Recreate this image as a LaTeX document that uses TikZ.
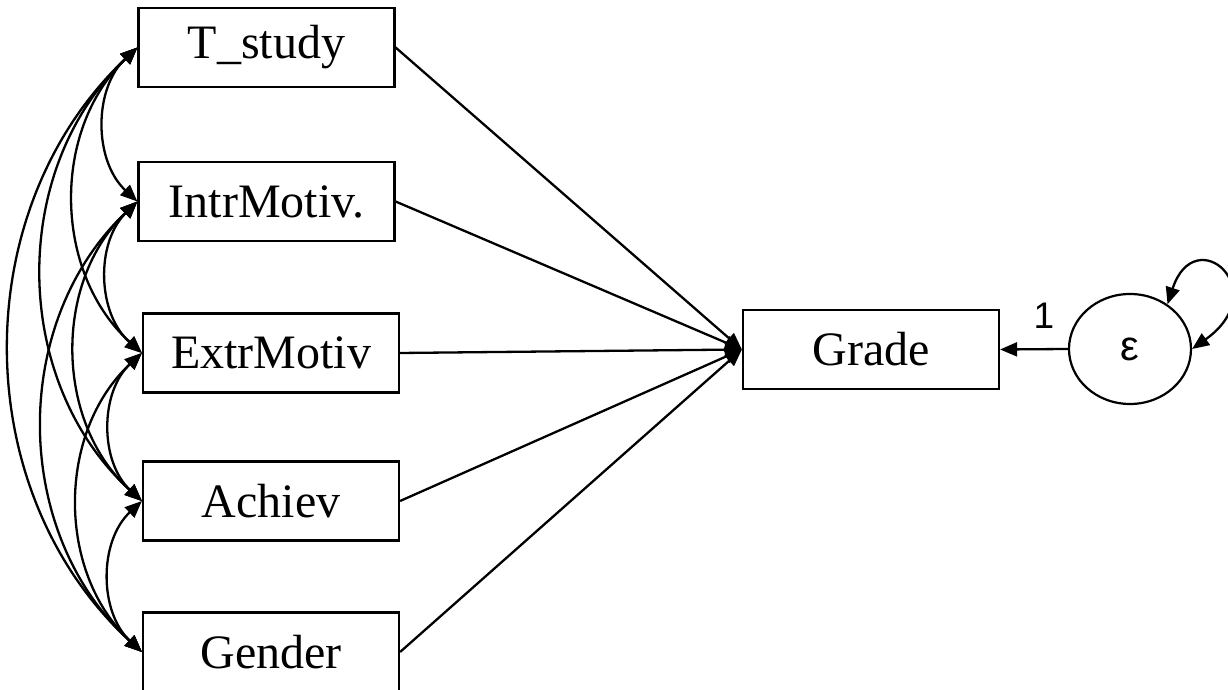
\documentclass[tikz,border=0pt]{standalone}
\usepackage{fontspec}
\setmainfont{Liberation Serif}
\newfontfamily\sansf{Liberation Sans}
\usetikzlibrary{arrows.meta,shapes.geometric}
\begin{document}
\begin{tikzpicture}[x=0.5pt,y=0.5pt,
  tip/.tip={Triangle[length=8.5pt,width=7pt]},
  var/.style={draw,line width=1.1pt,minimum width=128pt,minimum height=39.5pt,inner sep=0pt,font=\fontsize{24}{28}\selectfont},
  path/.style={line width=1.15pt,-tip},
  cov/.style={line width=1.15pt,tip-tip,bend right=47},
  err/.style={draw,ellipse,line width=1.1pt,minimum width=61pt,minimum height=55pt,inner sep=0pt,font=\sansf\fontsize{21}{24}\selectfont}]
\useasboundingbox (0,0) rectangle (1228,690);

% observed variables
\node[var] (T) at (266.5,642.5) {T\_study};
\node[var] (I) at (266.5,488.5) {IntrMotiv.};
\node[var] (E) at (271,337) {ExtrMotiv};
\node[var] (A) at (271,189) {Achiev};
\node[var] (G) at (271,38) {Gender};
\node[var] (Y) at (871,340.5) {Grade};

% error term
\node[err] (e) at (1130,341) {ε};

% structural paths
\foreach \v in {T,I,E,A,G} \draw[path] (\v.east) -- (Y.west);
\draw[path] (e.west) -- (Y.east);
\node[font=\sansf\fontsize{18.5}{22}\selectfont] (one) at (1044,374) {1};

% error variance
\draw[line width=1.15pt,tip-tip] (e.50) .. controls (1195,470) and (1275,400) .. (e.0);

% covariances among exogenous variables
\draw[cov] (T.west) to (I.west);
\draw[cov] (T.west) to (E.west);
\draw[cov] (T.west) to (A.west);
\draw[cov] (T.west) to (G.west);
\draw[cov] (I.west) to (E.west);
\draw[cov] (I.west) to (A.west);
\draw[cov] (I.west) to (G.west);
\draw[cov] (E.west) to (A.west);
\draw[cov] (E.west) to (G.west);
\draw[cov] (A.west) to (G.west);
\end{tikzpicture}
\end{document}
